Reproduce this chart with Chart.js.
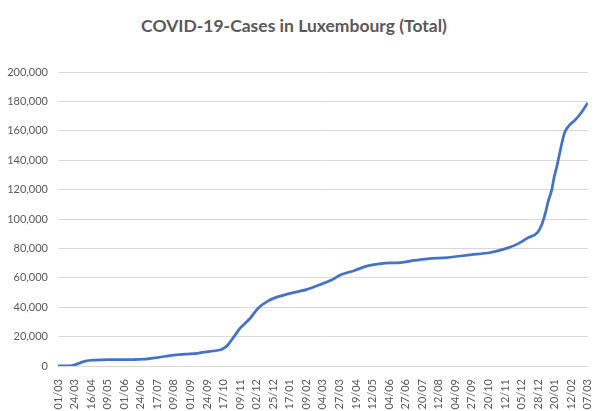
<!DOCTYPE html>
<html>
<head>
<meta charset="utf-8">
<script src="https://cdn.jsdelivr.net/npm/chart.js@4.4.1/dist/chart.umd.min.js"></script>
<style>
  html, body { margin: 0; padding: 0; background: #ffffff; }
  #wrap { position: relative; width: 606px; height: 411px; overflow: hidden; }
  #title { position: absolute; left: 0; top: 16px; width: 588px; text-align: center;
           font-family: Lato, "Open Sans", sans-serif; font-weight: 700; font-size: 17.5px;
           line-height: 20px; color: #595959; }
  #box { position: absolute; left: 0; top: 0; width: 606px; height: 411px; }
</style>
</head>
<body>
<div id="wrap">
  <div id="title">COVID-19-Cases in Luxembourg (Total)</div>
  <div id="box"><canvas id="c"></canvas></div>
</div>
<script>
// Day offsets since 01/03/2020 and total cases
const days  = [0, 17, 24, 29, 38, 52, 70, 100, 119, 140, 158, 177, 194, 200, 215, 226, 232, 236, 241, 246, 253, 267, 278, 292, 306, 315, 333, 345, 366, 380, 393, 412, 430, 449, 476, 495, 513, 541, 573, 601, 624, 638, 652, 666, 672, 677, 681, 686, 689, 693, 697, 700, 704, 710, 718, 725, 730, 736];
const cases = [0, 100, 900, 1800, 3300, 4000, 4300, 4400, 4600, 5900, 7200, 8000, 8600, 9200, 10200, 11000, 12700, 14300, 17700, 21000, 25700, 32500, 39300, 44300, 47200, 48400, 50600, 52000, 55700, 58500, 62000, 65000, 68100, 69700, 70400, 71800, 72900, 73800, 75600, 77200, 80200, 82900, 87000, 90800, 96100, 104000, 112000, 120000, 127900, 135800, 144900, 151700, 159000, 163600, 167200, 171100, 174500, 179000];
const tickLabels = ["01/03","24/03","16/04","09/05","01/06","24/06","17/07","09/08","01/09","24/09","17/10","09/11","02/12","25/12","17/01","09/02","04/03","27/03","19/04","12/05","04/06","27/06","20/07","12/08","04/09","27/09","20/10","12/11","05/12","28/12","20/01","12/02","07/03"];
const tickStep = 23;

const points = days.map((d, i) => ({ x: d, y: cases[i] }));
const FONT = 'Lato, "Open Sans", sans-serif';

new Chart(document.getElementById('c'), {
  type: 'line',
  data: {
    datasets: [{
      label: 'Total',
      data: points,
      borderColor: '#4472C4',
      backgroundColor: '#4472C4',
      borderWidth: 2.75,
      pointRadius: 0,
      cubicInterpolationMode: 'monotone',
      fill: false
    }]
  },
  options: {
    responsive: true,
    maintainAspectRatio: false,
    animation: false,
    devicePixelRatio: 1,
    layout: { padding: { top: 72, left: 4, right: 14, bottom: 0 } },
    plugins: { legend: { display: false }, title: { display: false }, tooltip: { enabled: false } },
    scales: {
      x: {
        type: 'linear',
        min: 0,
        max: (tickLabels.length - 1) * tickStep,
        grid: { display: false },
        border: { display: false },
        afterFit: (s) => { s.height = 45; },
        ticks: {
          stepSize: tickStep,
          autoSkip: false,
          maxRotation: 90,
          minRotation: 90,
          padding: 5,
          color: '#595959',
          font: { family: FONT, size: 11 },
          callback: (v) => tickLabels[Math.round(v / tickStep)] ?? ''
        }
      },
      y: {
        min: 0,
        max: 200000,
        grid: { color: '#d9d9d9', lineWidth: 1, drawTicks: false },
        border: { display: false },
        afterFit: (s) => { s.width = 54; },
        ticks: {
          stepSize: 20000,
          padding: 10,
          color: '#595959',
          font: { family: FONT, size: 11 },
          callback: (v) => v.toLocaleString('en-US')
        }
      }
    }
  }
});
</script>
</body>
</html>
